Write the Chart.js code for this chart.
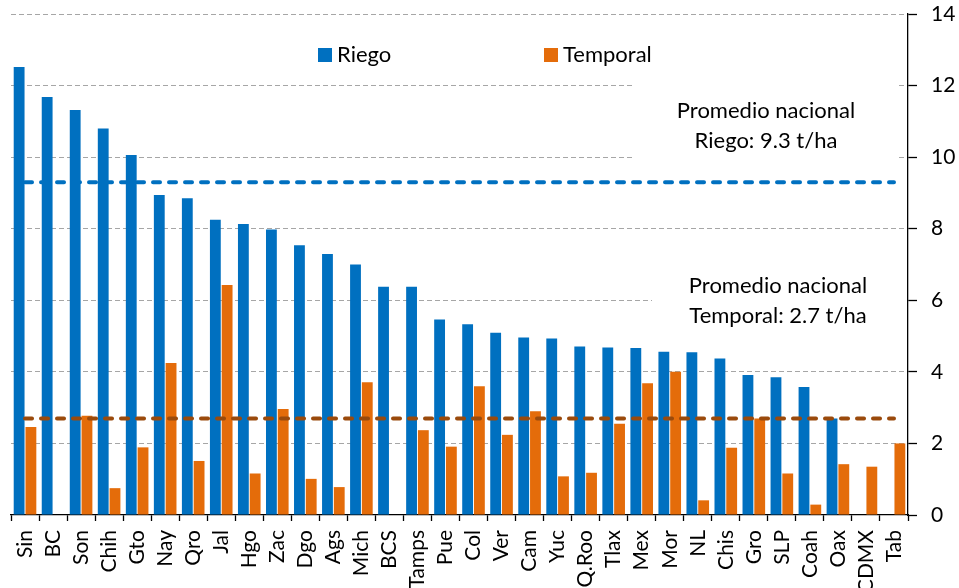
<!DOCTYPE html>
<html>
<head>
<meta charset="utf-8">
<script src="https://cdn.jsdelivr.net/npm/chart.js@4.4.1/dist/chart.umd.min.js"></script>
<style>
  html, body { margin: 0; padding: 0; background: #fff; }
  #wrap { width: 959px; height: 588px; }
</style>
</head>
<body>
<div id="wrap"><canvas id="grafico" width="959" height="588"></canvas></div>
<script>
const estados = ['Sin', 'BC', 'Son', 'Chih', 'Gto', 'Nay', 'Qro', 'Jal', 'Hgo', 'Zac', 'Dgo', 'Ags',
    'Mich', 'BCS', 'Tamps', 'Pue', 'Col', 'Ver', 'Cam', 'Yuc', 'Q.Roo', 'Tlax', 'Mex', 'Mor',
    'NL', 'Chis', 'Gro', 'SLP', 'Coah', 'Oax', 'CDMX', 'Tab'];

// rendimiento en t/ha
const riego = [12.52, 11.68, 11.32, 10.80, 10.06, 8.94, 8.85, 8.25, 8.13, 7.98, 7.54, 7.29,
    7.00, 6.38, 6.38, 5.46, 5.33, 5.09, 4.96, 4.93, 4.71, 4.68, 4.67, 4.56,
    4.55, 4.37, 3.91, 3.85, 3.58, 2.70, null, null];
const temporal = [2.46, null, 2.77, 0.75, 1.89, 4.25, 1.51, 6.43, 1.16, 2.96, 1.01, 0.78,
    3.71, null, 2.37, 1.91, 3.60, 2.24, 2.90, 1.08, 1.18, 2.55, 3.68, 4.00,
    0.41, 1.88, 2.70, 1.16, 0.29, 1.42, 1.35, 2.00];

const promedioRiego = 9.3;
const promedioTemporal = 2.7;

const ejeMin = 0;
const ejeMax = 14;
const ejePaso = 2;

const AZUL = '#0070C0';
const NARANJA = '#E46C0A';
const CAFE = '#9A4A0C';
const FUENTE = 'Lato, "Open Sans", sans-serif';

const extras = {
    id: 'extras',
    beforeDatasetsDraw(chart) {
        const ctx = chart.ctx;
        const area = chart.chartArea;
        ctx.save();
        // fondo blanco de los cuadros de texto
        ctx.fillStyle = '#fff';
        ctx.fillRect(area.right - 276, area.top + 66, 266, 88);
        ctx.fillRect(area.right - 256, area.top + 254, 254, 68);

        ctx.fillStyle = '#000';
        ctx.font = '22px ' + FUENTE;
        ctx.textAlign = 'center';
        ctx.textBaseline = 'middle';
        ctx.fillText('Promedio nacional', area.right - 142, area.top + 97);
        ctx.fillText('Riego: ' + promedioRiego + ' t/ha', area.right - 142, area.top + 127);
        ctx.fillText('Promedio nacional', area.right - 130, area.top + 272);
        ctx.fillText('Temporal: ' + promedioTemporal + ' t/ha', area.right - 130, area.top + 302);

        // leyenda
        ctx.textAlign = 'left';
        ctx.fillStyle = AZUL;
        ctx.fillRect(318, 48, 14, 14);
        ctx.fillStyle = NARANJA;
        ctx.fillRect(544, 48, 14, 14);
        ctx.fillStyle = '#000';
        ctx.fillText('Riego', 337, 55);
        ctx.fillText('Temporal', 563, 55);
        ctx.restore();
    },
    afterDatasetsDraw(chart) {
        const ctx = chart.ctx;
        const x = chart.scales.x;
        const y = chart.scales.y;
        const x1 = x.getPixelForValue(0);
        const x2 = x.getPixelForValue(estados.length - 1);
        ctx.save();
        ctx.lineWidth = 4;
        ctx.lineCap = 'round';
        ctx.setLineDash([7, 9]);
        [[promedioRiego, AZUL], [promedioTemporal, CAFE]].forEach(function (p) {
            const py = y.getPixelForValue(p[0]);
            ctx.strokeStyle = p[1];
            ctx.beginPath();
            ctx.moveTo(x1, py);
            ctx.lineTo(x2, py);
            ctx.stroke();
        });
        ctx.restore();
    }
};

document.addEventListener('DOMContentLoaded', function () {
    const ctx = document.getElementById('grafico').getContext('2d');

    const grafico = new Chart(ctx, {
        type: 'bar',
        data: {
            labels: estados,
            datasets: [{
                label: 'Riego',
                data: riego,
                backgroundColor: AZUL,
                categoryPercentage: 0.84,
                barPercentage: 0.92
            }, {
                label: 'Temporal',
                data: temporal,
                backgroundColor: NARANJA,
                categoryPercentage: 0.84,
                barPercentage: 0.92
            }]
        },
        options: {
            responsive: false,
            animation: false,
            layout: {
                padding: { left: 11, top: 14, right: 0, bottom: 0 }
            },
            plugins: {
                legend: { display: false },
                tooltip: { enabled: false }
            },
            scales: {
                x: {
                    grid: {
                        drawOnChartArea: false,
                        drawTicks: true,
                        tickLength: 6,
                        tickColor: '#000',
                        tickWidth: 1.3
                    },
                    border: { display: true, color: '#000', width: 1.3 },
                    ticks: {
                        color: '#000',
                        font: { family: FUENTE, size: 21 },
                        maxRotation: 90,
                        minRotation: 90,
                        autoSkip: false,
                        padding: 9
                    },
                    afterFit: function (scale) { scale.height = 73; }
                },
                y: {
                    position: 'right',
                    min: ejeMin,
                    max: ejeMax,
                    grid: {
                        color: function (c) { return c.tick && c.tick.value === 0 ? 'rgba(0,0,0,0)' : '#a6a6a6'; },
                        lineWidth: 1,
                        tickLength: 9,
                        tickColor: '#000',
                        tickWidth: 1.3
                    },
                    border: { display: true, color: '#000', width: 1.3, dash: [5, 3] },
                    ticks: {
                        stepSize: ejePaso,
                        color: '#000',
                        font: { family: FUENTE, size: 21 },
                        padding: 14
                    },
                    afterFit: function (scale) {
                        scale.width = 51;
                        scale.paddingTop = 0;
                        scale.paddingBottom = 0;
                    }
                }
            }
        },
        plugins: [extras]
    });
});
</script>
</body>
</html>
